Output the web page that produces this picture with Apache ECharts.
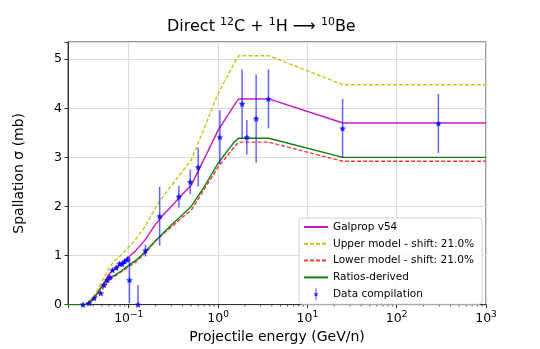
<!DOCTYPE html>
<html>
<head>
<meta charset="utf-8">
<script src="https://cdn.jsdelivr.net/npm/echarts@6/dist/echarts.min.js"></script>
<style>
  html, body { margin: 0; padding: 0; background: #fff; }
  #chart { width: 540px; height: 349px; }
</style>
</head>
<body>
<div id="chart"></div>
<script>
// energy grid for the model curves (GeV/n)
var energies = [0.02, 0.033, 0.04, 0.045, 0.05, 0.055, 0.06, 0.07, 0.08, 0.1, 0.12, 0.15,
                0.2, 0.25, 0.3, 0.4, 0.5, 0.7, 1.0, 1.5, 1.7, 3.7, 25, 1000];

var galprop   = [0, 0, 0.12, 0.25, 0.38, 0.50, 0.62, 0.74, 0.82, 0.97, 1.10, 1.30,
                 1.64, 1.85, 2.00, 2.25, 2.43, 2.97, 3.55, 4.05, 4.19, 4.19, 3.70, 3.70];
var upperModel = [0, 0, 0.15, 0.30, 0.46, 0.61, 0.75, 0.90, 0.99, 1.17, 1.33, 1.57,
                  1.98, 2.24, 2.42, 2.72, 2.94, 3.59, 4.30, 4.90, 5.07, 5.07, 4.48, 4.48];
var lowerModel = [0, 0, 0.09, 0.20, 0.30, 0.40, 0.49, 0.58, 0.65, 0.77, 0.87, 1.03,
                  1.30, 1.46, 1.58, 1.78, 1.92, 2.35, 2.80, 3.20, 3.31, 3.31, 2.92, 2.92];
var ratiosDerived = [0, 0, 0.12, 0.24, 0.36, 0.46, 0.53, 0.60, 0.67, 0.80, 0.90, 1.06,
                     1.30, 1.48, 1.62, 1.83, 2.00, 2.40, 2.88, 3.30, 3.39, 3.39, 3.00, 3.00];

// data compilation: energy, cross section, error
var dataE   = [0.0308, 0.036, 0.041, 0.0487, 0.053, 0.0578, 0.0613, 0.0657, 0.0728, 0.079,
               0.085, 0.090, 0.0966, 0.102, 0.127, 0.154, 0.222, 0.364, 0.489, 0.60,
               1.047, 1.86, 2.10, 2.67, 3.67, 24.8, 293];
var dataSig = [0.00, 0.03, 0.13, 0.23, 0.40, 0.50, 0.56, 0.70, 0.75, 0.83,
               0.83, 0.88, 0.92, 0.50, 0.00, 1.10, 1.80, 2.20, 2.50, 2.80,
               3.41, 4.09, 3.41, 3.79, 4.19, 3.59, 3.69];
var dataErr = [0.02, 0.02, 0.03, 0.03, 0.03, 0.04, 0.04, 0.04, 0.04, 0.05,
               0.05, 0.05, 0.06, 0.47, 0.40, 0.12, 0.60, 0.22, 0.25, 0.40,
               0.55, 0.70, 0.35, 0.90, 0.60, 0.60, 0.60];

var yTicks = [0, 1, 2, 3, 4, 5];
var xMin = 0.0209, xMax = 1000;

function pairs(xs, ys) {
    return xs.map(function (x, i) { return [x, ys[i]]; });
}

// minor ticks of the log axis (2..9 per decade)
var minorTicks = [];
for (var d = -2; d < 3; d++) {
    for (var k = 2; k < 10; k++) {
        var v = k * Math.pow(10, d);
        if (v > xMin && v < xMax) minorTicks.push([v, 0]);
    }
}

var font = 'DejaVu Sans';
var supMinus = '\u2212';
var noSymbol = { opacity: 0 };

var chart = echarts.init(document.getElementById('chart'));

var option = {
    animation: false,
    title: {
        text: 'Direct {s|12}C + {s|1}H \u27F6 {s|10}Be',
        left: 162,
        top: 12,
        textStyle: {
            fontFamily: font, fontSize: 16, fontWeight: 'normal', color: '#000',
            lineHeight: 20,
            rich: {
                s: { fontFamily: font, fontSize: 11, verticalAlign: 'top', lineHeight: 12 }
            }
        }
    },
    grid: { left: 68, right: 54, top: 42, bottom: 39, show: true, borderColor: '#333', borderWidth: 1 },
    legend: {
        orient: 'vertical',
        left: 299,
        top: 218,
        padding: [3, 8, 4, 4],
        itemWidth: 24,
        itemHeight: 12,
        itemGap: 4.8,
        backgroundColor: 'rgba(255,255,255,0.85)',
        borderColor: '#d0d0d0',
        borderWidth: 1,
        borderRadius: 3,
        textStyle: { fontFamily: font, fontSize: 10.5, color: '#000', lineHeight: 12 },
        data: [
            { name: 'Galprop v54', itemStyle: noSymbol },
            { name: 'Upper model - shift: 21.0%', itemStyle: noSymbol },
            { name: 'Lower model - shift: 21.0%', itemStyle: noSymbol },
            { name: 'Ratios-derived', itemStyle: noSymbol },
            { name: 'Data compilation',
              icon: 'path://M9.3,0 L10.7,0 L10.7,20 L9.3,20 Z M10,6 L11.3,8.6 L14,9 L12,11 L12.5,14 L10,12.6 L7.5,14 L8,11 L6,9 L8.7,8.6 Z' }
        ]
    },
    xAxis: {
        type: 'log',
        logBase: 10,
        min: xMin,
        max: xMax,
        splitNumber: 5,
        name: 'Projectile energy (GeV/n)',
        nameLocation: 'middle',
        nameGap: 23,
        nameTextStyle: { fontFamily: font, fontSize: 14, color: '#000', verticalAlign: 'top' },
        axisLine: { show: true, lineStyle: { color: '#333', width: 1 } },
        axisTick: { show: true, length: 3.5, lineStyle: { color: '#000', width: 0.8 } },
        axisLabel: {
            margin: 6,
            color: '#000',
            formatter: function (v) {
                var l = Math.log10(v);
                var p = Math.round(l);
                if (Math.abs(l - p) > 1e-6) return '';
                return '{b|10}{s|' + (p < 0 ? supMinus + (-p) : p) + '}';
            },
            rich: {
                b: { fontFamily: font, fontSize: 12.5, color: '#000', lineHeight: 16 },
                s: { fontFamily: font, fontSize: 9, color: '#000', verticalAlign: 'top', lineHeight: 9 }
            }
        },
        splitLine: { show: true, lineStyle: { color: '#dcdcdc', width: 1.2 } }
    },
    yAxis: {
        type: 'value',
        min: 0,
        max: 5.35,
        interval: 1,
        name: 'Spallation \u03C3 (mb)',
        nameLocation: 'middle',
        nameGap: 42,
        nameTextStyle: { fontFamily: font, fontSize: 14, color: '#000' },
        axisLine: { show: true, lineStyle: { color: '#333', width: 1 } },
        axisTick: { show: true, length: 3.5, lineStyle: { color: '#000', width: 0.8 } },
        axisLabel: {
            margin: 6,
            fontFamily: font, fontSize: 12.5, color: '#000',
            formatter: function (v) { return yTicks.indexOf(v) >= 0 ? String(v) : ''; }
        },
        splitLine: { show: true, lineStyle: { color: '#dcdcdc', width: 1.2 } }
    },
    series: [
        {
            name: 'Galprop v54', type: 'line', symbol: 'none', z: 3,
            data: pairs(energies, galprop),
            lineStyle: { color: '#c000c0', width: 1.4, opacity: 0.9 },
            itemStyle: { color: '#c000c0' }
        },
        {
            name: 'Upper model - shift: 21.0%', type: 'line', symbol: 'none', z: 3,
            data: pairs(energies, upperModel),
            lineStyle: { color: '#bfbf00', width: 1.4, type: [4, 2], opacity: 0.9 },
            itemStyle: { color: '#bfbf00' }
        },
        {
            name: 'Lower model - shift: 21.0%', type: 'line', symbol: 'none', z: 3,
            data: pairs(energies, lowerModel),
            lineStyle: { color: '#ff2020', width: 1.4, type: [4, 2], opacity: 0.9 },
            itemStyle: { color: '#ff2020' }
        },
        {
            name: 'Ratios-derived', type: 'line', symbol: 'none', z: 4,
            data: pairs(energies, ratiosDerived),
            lineStyle: { color: '#108010', width: 1.4 },
            itemStyle: { color: '#108010' }
        },
        {
            name: 'errbars', type: 'custom', z: 5,
            data: dataE.map(function (e, i) { return [e, dataSig[i], dataErr[i]]; }),
            renderItem: function (params, api) {
                var e = api.value(0), s = api.value(1), err = api.value(2);
                var lo = api.coord([e, Math.max(0, s - err)]);
                var hi = api.coord([e, s + err]);
                return {
                    type: 'line',
                    shape: { x1: lo[0], y1: lo[1], x2: hi[0], y2: hi[1] },
                    style: { stroke: 'rgba(0,0,255,0.6)', lineWidth: 1.5 }
                };
            }
        },
        {
            name: 'Data compilation', type: 'scatter', z: 6,
            symbol: 'path://M0,-1 L0.29,-0.4 L0.95,-0.31 L0.48,0.15 L0.59,0.81 L0,0.5 L-0.59,0.81 L-0.48,0.15 L-0.95,-0.31 L-0.29,-0.4 Z',
            symbolSize: 6.5,
            symbolKeepAspect: true,
            data: pairs(dataE, dataSig),
            itemStyle: { color: '#0000ff' }
        },
        {
            name: 'minorTicks', type: 'custom', z: 2, silent: true,
            data: minorTicks,
            renderItem: function (params, api) {
                var p = api.coord([api.value(0), 0]);
                return {
                    type: 'line',
                    shape: { x1: p[0], y1: p[1], x2: p[0], y2: p[1] + 2 },
                    style: { stroke: '#000', lineWidth: 0.6 }
                };
            }
        }
    ]
};
chart.setOption(option);
</script>
</body>
</html>
